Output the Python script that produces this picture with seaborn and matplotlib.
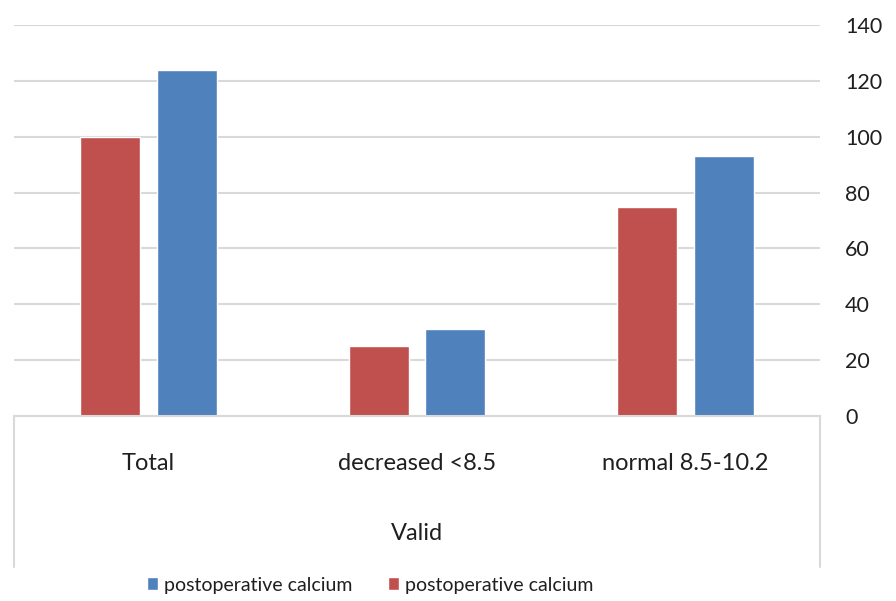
import matplotlib
matplotlib.use("Agg")
import matplotlib.pyplot as plt
from matplotlib.lines import Line2D
from matplotlib.patches import Patch
import seaborn as sns
import pandas as pd

categories = ["Total", "decreased <8.5", "normal 8.5-10.2"]
series_red = [100, 25, 75]
series_blue = [124, 31, 93]
series_names = ["series_red", "series_blue"]
legend_label = "postoperative calcium"
y_ticks = [0, 20, 40, 60, 80, 100, 120, 140]
axis_title = "Valid"

RED = "#C0504D"
BLUE = "#4F81BD"
GRID = "#D9D9D9"
TEXT = "#1f1f1f"

df = pd.DataFrame({
    "category": categories * 2,
    "value": series_red + series_blue,
    "series": [series_names[0]] * 3 + [series_names[1]] * 3,
})

sns.set_theme(style="white")
plt.rcParams["font.family"] = ["Lato", "DejaVu Sans"]

fig = plt.figure(figsize=(8.96, 6.01), dpi=100)
ax = fig.add_axes([14 / 896, (601 - 416) / 601, (820 - 14) / 896, (416 - 25) / 601])

sns.barplot(data=df, x="category", y="value", hue="series", order=categories,
            hue_order=series_names, palette=[RED, BLUE], width=0.572, gap=0.22,
            saturation=1, legend=False, ax=ax, errorbar=None)

ax.set_xlim(-0.5, 2.5)
ax.set_ylim(0, 140)
ax.set_yticks(y_ticks)
ax.yaxis.tick_right()
ax.tick_params(axis="y", length=0, pad=18, labelsize=15.5, labelcolor=TEXT)
ax.tick_params(axis="x", length=0, pad=27, labelsize=17, labelcolor=TEXT)
ax.set_ylabel("")
ax.set_xlabel(axis_title, fontsize=17, color=TEXT, labelpad=35)

ax.grid(axis="y", color=GRID, linewidth=1.5)
ax.set_axisbelow(True)
for side in ["top", "left", "right"]:
    ax.spines[side].set_visible(False)
ax.spines["bottom"].set_color(GRID)
ax.spines["bottom"].set_linewidth(1.5)

# bracket lines framing the category area below the axis
drop = -(567 - 416) / (416 - 25)
for xpos in (0, 1):
    ax.add_line(Line2D([xpos, xpos], [0, drop], transform=ax.transAxes,
                       color=GRID, linewidth=1.5, clip_on=False))

handles = [Patch(facecolor=BLUE, label=legend_label),
           Patch(facecolor=RED, label=legend_label)]
fig.legend(handles=handles, loc="center", bbox_to_anchor=(370 / 896, 1 - 585 / 601),
           ncol=2, frameon=False, fontsize=14, handlelength=0.6, handleheight=0.6,
           handletextpad=0.3, columnspacing=1.8, labelcolor=TEXT)

fig.savefig("out.png", dpi=100)
